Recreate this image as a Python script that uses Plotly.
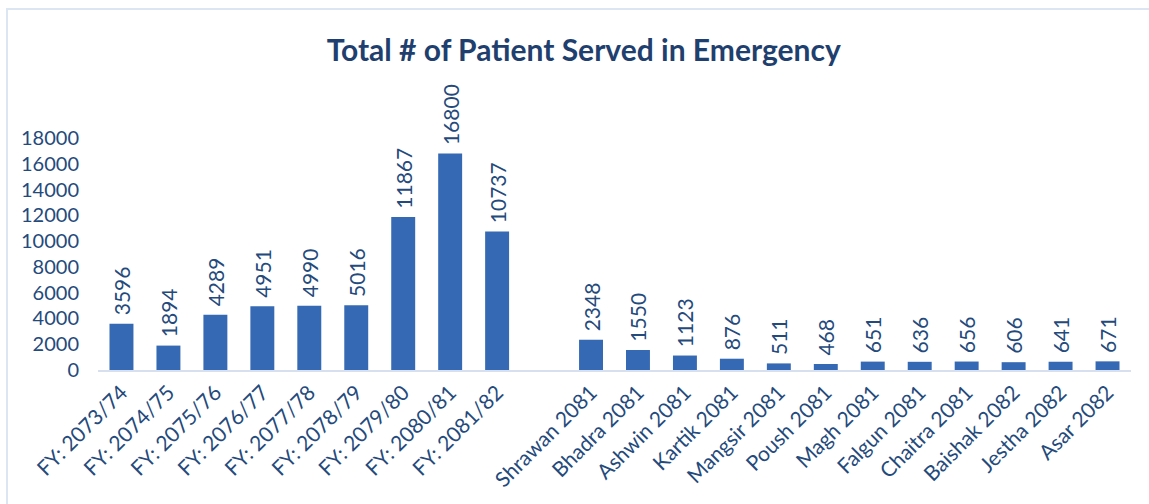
import plotly.graph_objects as go

categories = ["FY: 2073/74", "FY: 2074/75", "FY: 2075/76", "FY: 2076/77", "FY: 2077/78",
              "FY: 2078/79", "FY: 2079/80", "FY: 2080/81", "FY: 2081/82", " ",
              "Shrawan 2081", "Bhadra 2081", "Ashwin 2081", "Kartik 2081", "Mangsir 2081",
              "Poush 2081", "Magh 2081", "Falgun 2081", "Chaitra 2081", "Baishak 2082",
              "Jestha 2082", "Asar 2082"]
patients = [3596, 1894, 4289, 4951, 4990, 5016, 11867, 16800, 10737, None,
            2348, 1550, 1123, 876, 511, 468, 651, 636, 656, 606, 641, 671]
y_ticks = [0, 2000, 4000, 6000, 8000, 10000, 12000, 14000, 16000, 18000]

labels = ["" if v is None else " " + str(v) for v in patients]

FONT = "Lato"
TXT = "#244a7c"

fig = go.Figure()
fig.add_trace(go.Bar(
    x=categories, y=patients,
    marker=dict(color="#3669b3", line=dict(width=0)),
    text=labels, textposition="outside", textangle=-90,
    textfont=dict(family=FONT, size=21, color=TXT),
    cliponaxis=False, constraintext="none", hoverinfo="x+y",
))

fig.update_layout(
    width=1149, height=504,
    paper_bgcolor="white", plot_bgcolor="white",
    margin=dict(l=98, r=18, t=138, b=134, autoexpand=False),
    bargap=0.49,
    showlegend=False,
    title=dict(text="<b>Total # of Patient Served in Emergency</b>",
               x=0.508, xanchor="center", y=0.9, yanchor="middle",
               font=dict(family=FONT, size=30, color="#1f3f6e")),
    xaxis=dict(type="category", categoryorder="array", categoryarray=categories,
               range=[-0.5, len(categories) - 0.5], automargin=False,
               tickangle=-45, showgrid=False, showline=True, linecolor="#d6e0ee", linewidth=2,
               ticks="", tickfont=dict(family=FONT, size=21, color=TXT)),
    yaxis=dict(range=[0, 18000], tickvals=y_ticks, ticktext=[str(v) for v in y_ticks],
               showgrid=False, zeroline=False, automargin=False,
               showline=False, ticks="", ticklabelstandoff=18,
               tickfont=dict(family=FONT, size=20, color=TXT)),
    shapes=[dict(type="rect", xref="paper", yref="paper",
                 x0=(7 - 98) / 1033, x1=1.1, y0=-1.0, y1=(370 - 9) / 232,
                 line=dict(color="#dce6f2", width=2), fillcolor="rgba(0,0,0,0)", layer="below")],
)

fig.write_html("out.html", config={"displayModeBar": False},
               post_script="document.body.style.margin='0';document.body.style.overflow='hidden';")
